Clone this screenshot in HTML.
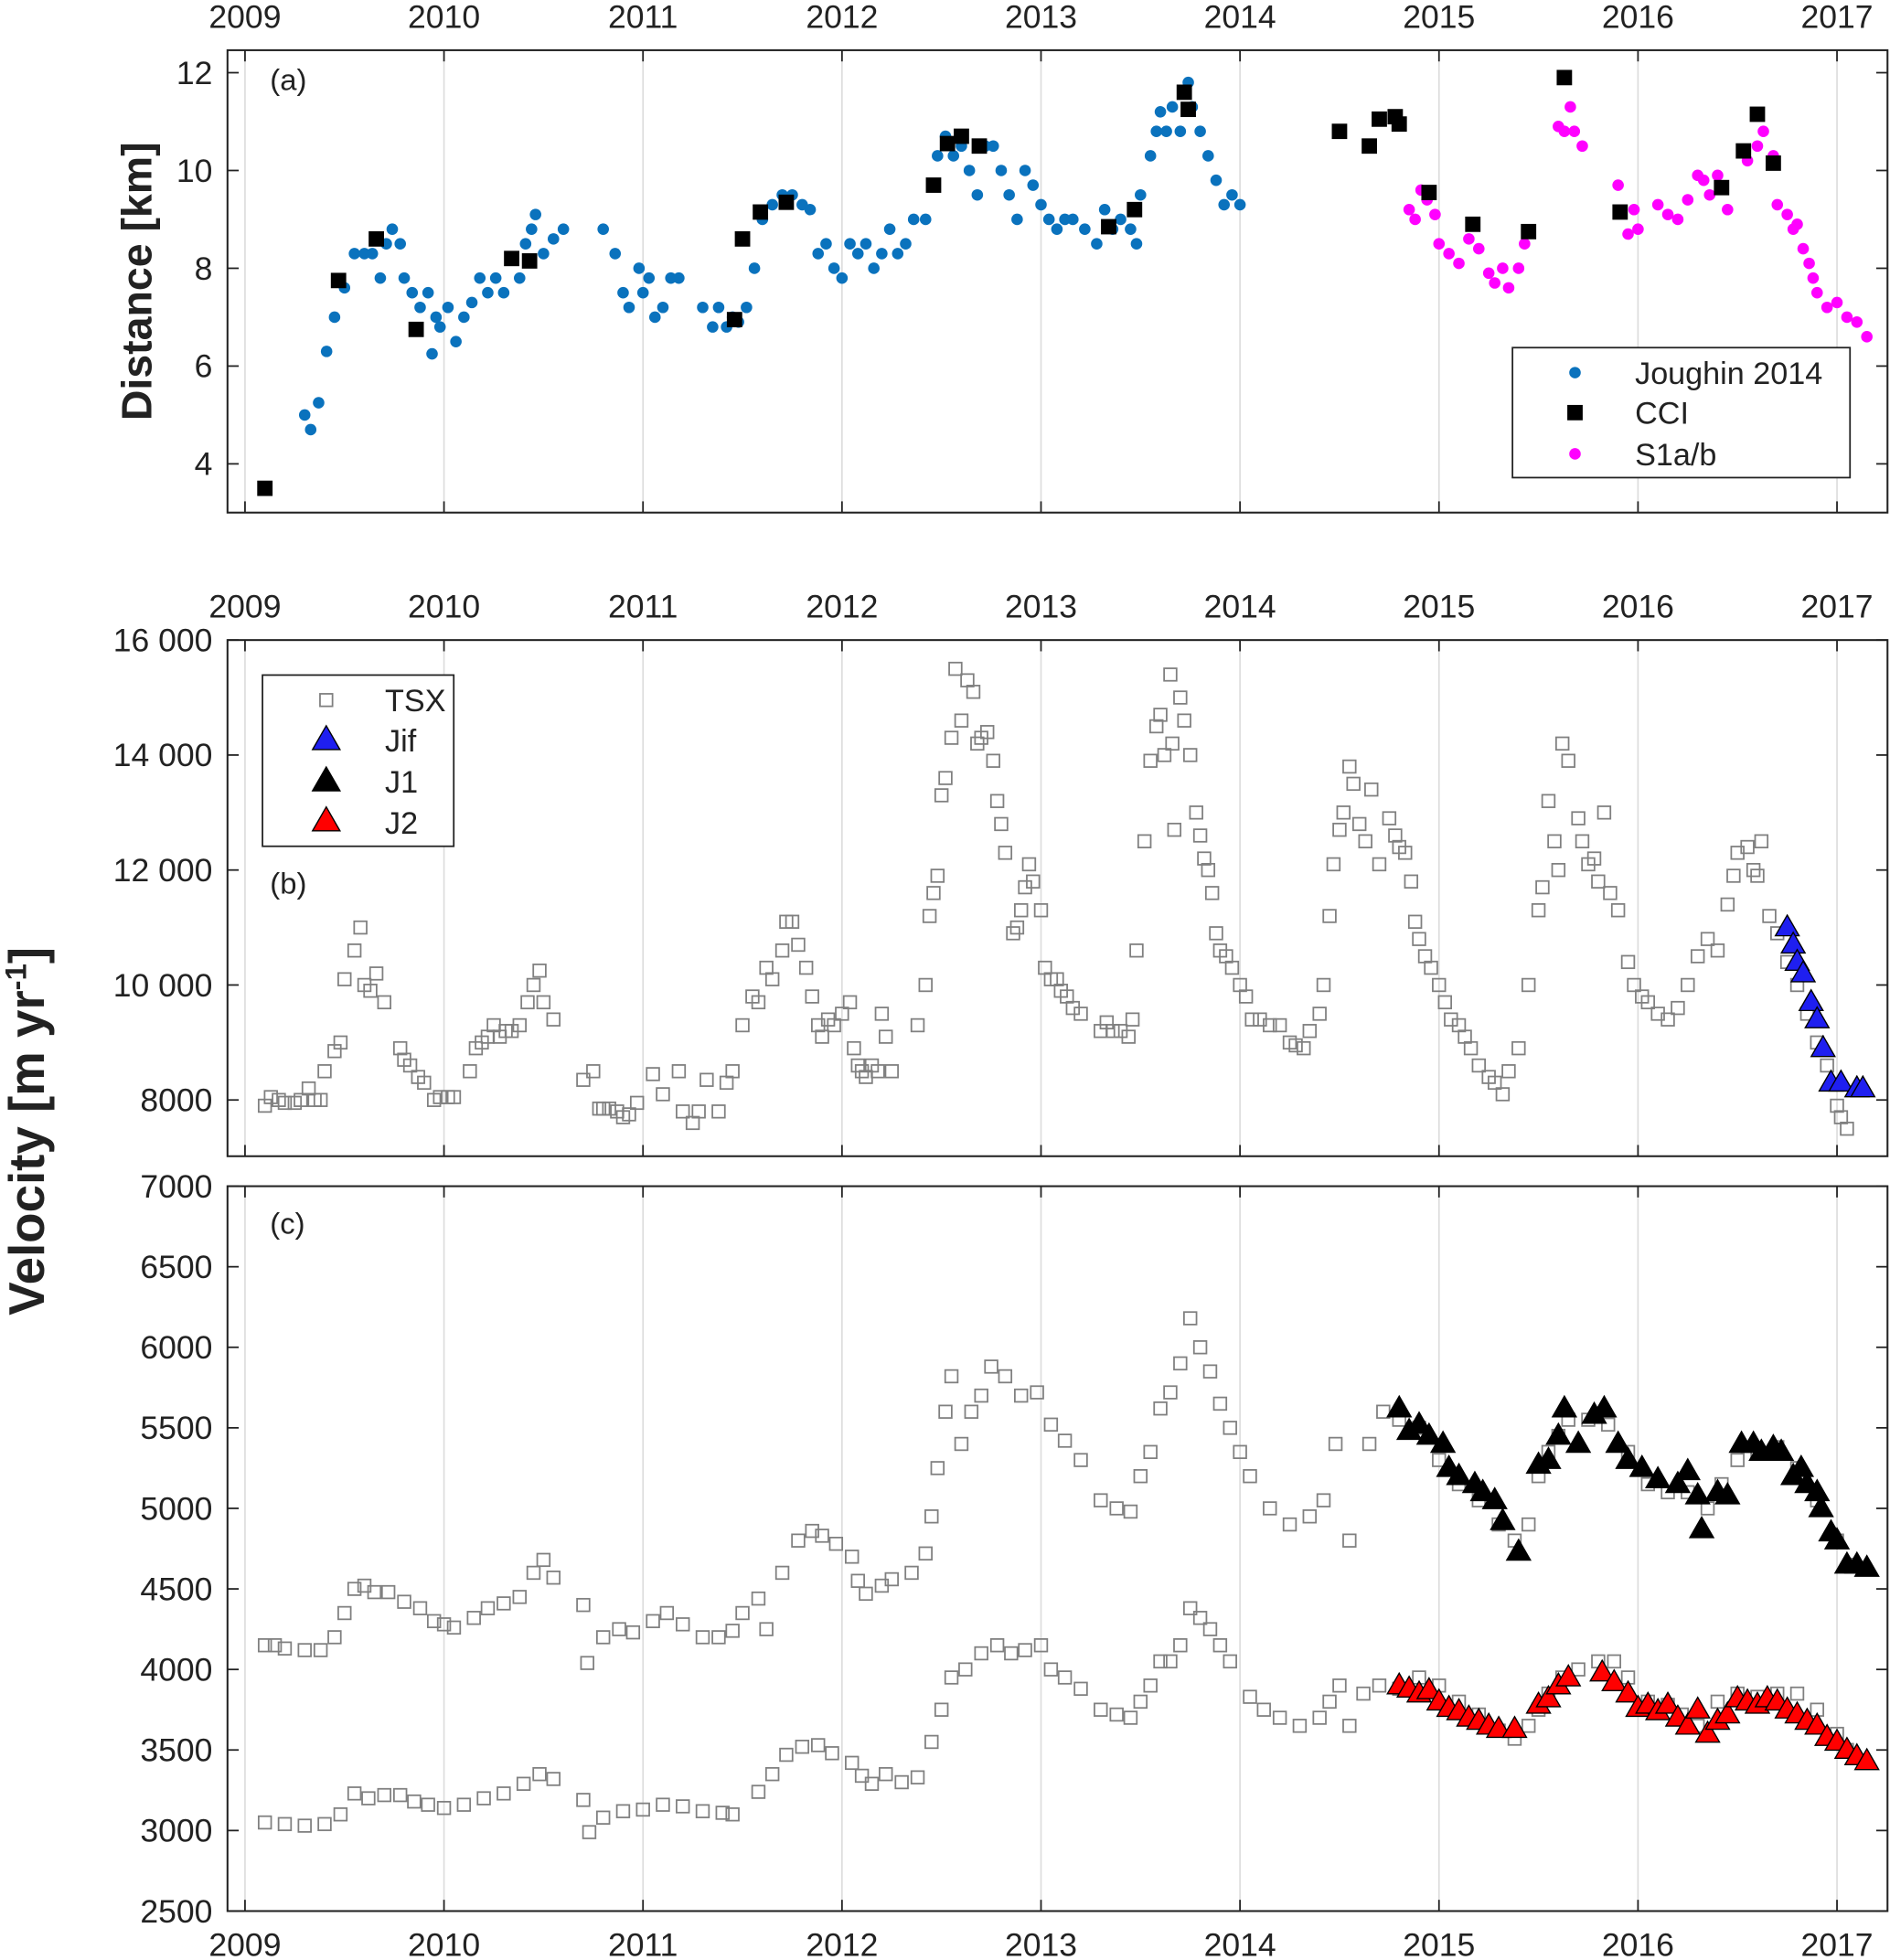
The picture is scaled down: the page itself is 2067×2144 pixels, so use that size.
<!DOCTYPE html>
<html><head><meta charset="utf-8"><style>
html,body{margin:0;padding:0;background:#fff;}
svg{display:block;font-family:"Liberation Sans","DejaVu Sans",sans-serif;}
</style></head><body>
<svg id="chart" xmlns="http://www.w3.org/2000/svg" width="2067" height="2144" viewBox="0 0 1512 1568"></svg>
<script>
const yearTicks=[2009,2010,2011,2012,2013,2014,2015,2016,2017];
const distTicks=[4,6,8,10,12];
const velBTicks=[8000,10000,12000,14000,16000];
const velBLabels=["8000","10 000","12 000","14 000","16 000"];
const velCTicks=[2500,3000,3500,4000,4500,5000,5500,6000,6500,7000];

const joughinT=[2009.3,2009.33,2009.37,2009.41,2009.45,2009.5,2009.55,2009.6,2009.64,2009.68,2009.71,2009.74,2009.78,2009.8,2009.84,2009.88,2009.92,2009.96,2009.98,2009.94,2010.02,2010.06,2010.1,2010.14,2010.18,2010.22,2010.26,2010.3,2010.38,2010.41,2010.44,2010.46,2010.5,2010.55,2010.6,2010.8,2010.86,2010.9,2010.93,2010.98,2011.0,2011.03,2011.06,2011.1,2011.14,2011.18,2011.3,2011.35,2011.38,2011.42,2011.45,2011.48,2011.52,2011.56,2011.6,2011.65,2011.7,2011.75,2011.8,2011.84,2011.88,2011.92,2011.96,2012.0,2012.04,2012.08,2012.12,2012.16,2012.2,2012.24,2012.28,2012.32,2012.36,2012.42,2012.48,2012.52,2012.56,2012.6,2012.64,2012.68,2012.72,2012.76,2012.8,2012.84,2012.88,2012.92,2012.96,2013.0,2013.04,2013.08,2013.12,2013.16,2013.22,2013.28,2013.32,2013.36,2013.4,2013.45,2013.48,2013.5,2013.55,2013.58,2013.6,2013.63,2013.66,2013.7,2013.74,2013.76,2013.8,2013.84,2013.88,2013.92,2013.96,2014.0];
const joughinV=[5.0,4.7,5.25,6.3,7.0,7.6,8.3,8.3,8.3,7.8,8.5,8.8,8.5,7.8,7.5,7.2,7.5,7.0,6.8,6.25,7.2,6.5,7.0,7.3,7.8,7.5,7.8,7.5,7.8,8.5,8.8,9.1,8.3,8.6,8.8,8.8,8.3,7.5,7.2,8.0,7.5,7.8,7.0,7.2,7.8,7.8,7.2,6.8,7.2,6.8,7.0,6.9,7.2,8.0,9.0,9.3,9.5,9.5,9.3,9.2,8.3,8.5,8.0,7.8,8.5,8.3,8.5,8.0,8.3,8.8,8.3,8.5,9.0,9.0,10.3,10.7,10.3,10.5,10.0,9.5,10.5,10.5,10.0,9.5,9.0,10.0,9.7,9.3,9.0,8.8,9.0,9.0,8.8,8.5,9.2,8.8,9.0,8.8,8.5,9.5,10.3,10.8,11.2,10.8,11.3,10.8,11.8,11.3,10.8,10.3,9.8,9.3,9.5,9.3];
const cciT=[2009.1,2009.47,2009.66,2009.86,2010.34,2010.43,2011.46,2011.5,2011.59,2011.72,2012.46,2012.53,2012.6,2012.69,2013.34,2013.47,2013.72,2013.74,2014.5,2014.65,2014.7,2014.78,2014.8,2014.95,2015.17,2015.45,2015.63,2015.91,2016.42,2016.53,2016.6,2016.68];
const cciV=[3.5,7.75,8.6,6.75,8.2,8.15,6.95,8.6,9.15,9.35,9.7,10.55,10.7,10.5,8.85,9.2,11.6,11.25,10.8,10.5,11.05,11.1,10.95,9.55,8.9,8.75,11.9,9.15,9.65,10.4,11.15,10.15];
const s1T=[2014.85,2014.88,2014.91,2014.94,2014.98,2015.0,2015.05,2015.1,2015.15,2015.2,2015.25,2015.28,2015.32,2015.35,2015.4,2015.43,2015.6,2015.63,2015.66,2015.68,2015.72,2015.9,2015.95,2015.98,2016.0,2016.1,2016.15,2016.2,2016.25,2016.3,2016.33,2016.36,2016.4,2016.45,2016.55,2016.6,2016.63,2016.68,2016.7,2016.75,2016.78,2016.8,2016.83,2016.86,2016.88,2016.9,2016.95,2017.0,2017.05,2017.1,2017.15];
const s1V=[9.2,9.0,9.6,9.4,9.1,8.5,8.3,8.1,8.6,8.4,7.9,7.7,8.0,7.6,8.0,8.5,10.9,10.8,11.3,10.8,10.5,9.7,8.7,9.2,8.8,9.3,9.1,9.0,9.4,9.9,9.8,9.5,9.9,9.2,10.2,10.5,10.8,10.3,9.3,9.1,8.8,8.9,8.4,8.1,7.8,7.5,7.2,7.3,7.0,6.9,6.6];

const tsxBT=[2009.1,2009.13,2009.17,2009.2,2009.25,2009.28,2009.32,2009.35,2009.38,2009.4,2009.45,2009.48,2009.5,2009.55,2009.58,2009.6,2009.63,2009.66,2009.7,2009.78,2009.8,2009.83,2009.87,2009.9,2009.95,2009.98,2010.02,2010.05,2010.13,2010.16,2010.19,2010.22,2010.25,2010.28,2010.31,2010.34,2010.38,2010.42,2010.45,2010.48,2010.5,2010.55,2010.7,2010.75,2010.78,2010.8,2010.83,2010.87,2010.9,2010.93,2010.97,2011.05,2011.1,2011.18,2011.2,2011.25,2011.28,2011.32,2011.38,2011.42,2011.45,2011.5,2011.55,2011.58,2011.62,2011.65,2011.7,2011.72,2011.75,2011.78,2011.82,2011.85,2011.88,2011.9,2011.93,2011.96,2012.0,2012.04,2012.06,2012.08,2012.1,2012.12,2012.15,2012.18,2012.2,2012.22,2012.25,2012.38,2012.42,2012.44,2012.46,2012.48,2012.5,2012.52,2012.55,2012.57,2012.6,2012.63,2012.66,2012.68,2012.7,2012.73,2012.76,2012.78,2012.8,2012.82,2012.86,2012.88,2012.9,2012.92,2012.94,2012.96,2013.0,2013.02,2013.05,2013.08,2013.1,2013.13,2013.16,2013.2,2013.3,2013.33,2013.36,2013.4,2013.44,2013.46,2013.48,2013.52,2013.55,2013.58,2013.6,2013.62,2013.65,2013.66,2013.67,2013.7,2013.72,2013.75,2013.78,2013.8,2013.82,2013.84,2013.86,2013.88,2013.9,2013.93,2013.96,2014.0,2014.03,2014.06,2014.1,2014.15,2014.2,2014.25,2014.28,2014.32,2014.35,2014.4,2014.42,2014.45,2014.47,2014.5,2014.52,2014.55,2014.57,2014.6,2014.63,2014.66,2014.7,2014.75,2014.78,2014.8,2014.83,2014.86,2014.88,2014.9,2014.93,2014.96,2015.0,2015.03,2015.06,2015.1,2015.13,2015.16,2015.2,2015.25,2015.28,2015.32,2015.35,2015.4,2015.45,2015.5,2015.52,2015.55,2015.58,2015.6,2015.62,2015.65,2015.7,2015.72,2015.75,2015.78,2015.8,2015.83,2015.86,2015.9,2015.95,2015.98,2016.02,2016.05,2016.1,2016.15,2016.2,2016.25,2016.3,2016.35,2016.4,2016.45,2016.48,2016.5,2016.55,2016.58,2016.6,2016.62,2016.66,2016.7,2016.75,2016.8,2016.85,2016.9,2016.95,2017.0,2017.02,2017.05];
const tsxBV=[7.9,8.05,8.0,7.95,7.95,8.0,8.2,8.0,8.0,8.5,8.85,9.0,10.1,10.6,11.0,10.0,9.9,10.2,9.7,8.9,8.7,8.6,8.4,8.3,8.0,8.05,8.05,8.05,8.5,8.9,9.0,9.1,9.3,9.1,9.2,9.2,9.3,9.7,10.0,10.25,9.7,9.4,8.35,8.5,7.85,7.85,7.85,7.8,7.7,7.75,7.95,8.45,8.1,8.5,7.8,7.6,7.8,8.35,7.8,8.3,8.5,9.3,9.8,9.7,10.3,10.1,10.6,11.1,11.1,10.7,10.3,9.8,9.3,9.1,9.4,9.3,9.5,9.7,8.9,8.6,8.5,8.4,8.6,8.5,9.5,9.1,8.5,9.3,10.0,11.2,11.6,11.9,13.3,13.6,14.3,15.5,14.6,15.3,15.1,14.2,14.3,14.4,13.9,13.2,12.8,12.3,10.9,11.0,11.3,11.7,12.1,11.8,11.3,10.3,10.1,10.1,9.9,9.8,9.6,9.5,9.2,9.35,9.2,9.2,9.1,9.4,10.6,12.5,13.9,14.5,14.7,14.0,15.4,14.2,12.7,15.0,14.6,14.0,13.0,12.6,12.2,12.0,11.6,10.9,10.6,10.5,10.3,10.0,9.8,9.4,9.4,9.3,9.3,9.0,8.95,8.9,9.2,9.5,10.0,11.2,12.1,12.7,13.0,13.8,13.5,12.8,12.5,13.4,12.1,12.9,12.6,12.4,12.3,11.8,11.1,10.8,10.5,10.3,10.0,9.7,9.4,9.3,9.1,8.9,8.6,8.4,8.3,8.1,8.5,8.9,10.0,11.3,11.7,13.2,12.5,12.0,14.2,13.9,12.9,12.5,12.1,12.2,11.8,13.0,11.6,11.3,10.4,10.0,9.8,9.7,9.5,9.4,9.6,10.0,10.5,10.8,10.6,11.4,11.9,12.3,12.4,12.0,11.9,12.5,11.2,10.9,10.4,10.0,9.5,9.0,8.6,7.9,7.7,7.5];
const jifT=[2016.75,2016.78,2016.8,2016.83,2016.87,2016.9,2016.93,2016.97,2017.02,2017.1,2017.13];
const jifV=[11.0,10.7,10.4,10.2,9.7,9.4,8.9,8.3,8.3,8.2,8.2];

const tsxC1T=[2009.1,2009.15,2009.2,2009.3,2009.38,2009.45,2009.5,2009.55,2009.6,2009.65,2009.72,2009.8,2009.88,2009.95,2010.0,2010.05,2010.15,2010.22,2010.3,2010.38,2010.45,2010.5,2010.55,2010.7,2010.72,2010.8,2010.88,2010.95,2011.05,2011.12,2011.2,2011.3,2011.38,2011.45,2011.5,2011.58,2011.62,2011.7,2011.78,2011.85,2011.9,2011.97,2012.05,2012.08,2012.12,2012.2,2012.25,2012.35,2012.42,2012.45,2012.48,2012.52,2012.55,2012.6,2012.65,2012.7,2012.75,2012.82,2012.9,2012.98,2013.05,2013.12,2013.2,2013.3,2013.38,2013.45,2013.5,2013.55,2013.6,2013.65,2013.7,2013.75,2013.8,2013.85,2013.9,2013.95,2014.0,2014.05,2014.15,2014.25,2014.35,2014.42,2014.48,2014.55,2014.65,2014.72,2014.8,2014.9,2015.0,2015.1,2015.2,2015.3,2015.38,2015.45,2015.5,2015.55,2015.6,2015.65,2015.75,2015.85,2015.95,2016.05,2016.15,2016.25,2016.35,2016.42,2016.5,2016.6,2016.7,2016.8,2016.9,2017.0,2017.08];
const tsxC1V=[4150,4150,4130,4120,4120,4200,4350,4500,4520,4480,4480,4420,4380,4300,4280,4260,4320,4380,4410,4450,4600,4680,4570,4400,4040,4200,4250,4230,4300,4350,4280,4200,4200,4240,4350,4440,4250,4600,4800,4860,4830,4780,4700,4550,4470,4520,4560,4600,4720,4950,5250,5600,5820,5400,5600,5700,5880,5820,5700,5720,5520,5420,5300,5050,5000,4980,5200,5350,5620,5720,5900,6180,6000,5850,5650,5500,5350,5200,5000,4900,4950,5050,5400,4800,5400,5600,5550,5500,5300,5150,5050,4900,4800,4900,5200,5350,5450,5550,5550,5520,5350,5150,5100,5100,5000,5150,5300,5350,5380,5250,5050,4800,4650];
const j1T=[2014.8,2014.85,2014.9,2014.95,2015.02,2015.05,2015.1,2015.18,2015.22,2015.28,2015.32,2015.4,2015.5,2015.55,2015.6,2015.63,2015.7,2015.78,2015.83,2015.9,2015.95,2016.02,2016.1,2016.2,2016.25,2016.3,2016.32,2016.4,2016.45,2016.52,2016.58,2016.62,2016.68,2016.72,2016.78,2016.82,2016.85,2016.9,2016.92,2016.97,2017.0,2017.05,2017.1,2017.15];
const j1V=[5620,5480,5520,5450,5400,5250,5200,5150,5100,5050,4920,4730,5270,5300,5450,5620,5400,5580,5620,5400,5300,5250,5180,5150,5230,5080,4870,5100,5080,5400,5400,5350,5380,5350,5200,5250,5150,5100,5000,4850,4800,4650,4650,4630];
const tsxC2T=[2009.1,2009.2,2009.3,2009.4,2009.48,2009.55,2009.62,2009.7,2009.78,2009.85,2009.92,2010.0,2010.1,2010.2,2010.3,2010.4,2010.48,2010.55,2010.7,2010.73,2010.8,2010.9,2011.0,2011.1,2011.2,2011.3,2011.4,2011.45,2011.58,2011.65,2011.72,2011.8,2011.88,2011.95,2012.05,2012.1,2012.15,2012.22,2012.3,2012.38,2012.45,2012.5,2012.55,2012.62,2012.7,2012.78,2012.85,2012.92,2013.0,2013.05,2013.12,2013.2,2013.3,2013.38,2013.45,2013.5,2013.55,2013.6,2013.65,2013.7,2013.75,2013.8,2013.85,2013.9,2013.95,2014.05,2014.12,2014.2,2014.3,2014.4,2014.45,2014.5,2014.55,2014.62,2014.7,2014.8,2014.9,2015.0,2015.1,2015.2,2015.3,2015.38,2015.45,2015.5,2015.55,2015.62,2015.7,2015.8,2015.88,2015.95,2016.05,2016.15,2016.22,2016.3,2016.4,2016.5,2016.6,2016.7,2016.8,2016.9,2017.0,2017.05];
const tsxC2V=[3050,3040,3030,3040,3100,3230,3200,3220,3220,3180,3160,3140,3160,3200,3230,3290,3350,3320,3190,2990,3080,3120,3130,3160,3150,3120,3110,3100,3240,3350,3470,3520,3530,3480,3420,3340,3290,3350,3300,3330,3550,3750,3950,4000,4100,4150,4100,4120,4150,4000,3950,3880,3750,3720,3700,3800,3900,4050,4050,4150,4380,4320,4250,4150,4050,3830,3750,3700,3650,3700,3800,3900,3650,3850,3900,3880,3950,3900,3800,3720,3620,3570,3650,3750,3850,3950,4000,4050,4050,3950,3800,3780,3720,3650,3800,3850,3830,3850,3850,3750,3600,3500];
const j2T=[2014.8,2014.85,2014.9,2014.95,2015.0,2015.05,2015.1,2015.15,2015.2,2015.25,2015.3,2015.38,2015.5,2015.55,2015.6,2015.65,2015.82,2015.88,2015.95,2016.0,2016.05,2016.1,2016.15,2016.2,2016.25,2016.3,2016.35,2016.4,2016.45,2016.5,2016.55,2016.6,2016.65,2016.7,2016.75,2016.8,2016.85,2016.9,2016.95,2017.0,2017.05,2017.1,2017.15];
const j2V=[3900,3880,3850,3870,3800,3760,3740,3700,3680,3650,3630,3630,3780,3820,3900,3950,3980,3920,3850,3760,3780,3740,3780,3700,3650,3750,3600,3680,3720,3820,3800,3780,3820,3800,3750,3720,3680,3650,3580,3550,3500,3460,3430];

const NS="http://www.w3.org/2000/svg";
const svg=document.getElementById('chart');
function el(tag,attrs,parent){const e=document.createElementNS(NS,tag);for(const k in attrs)e.setAttribute(k,attrs[k]);(parent||svg).appendChild(e);return e;}
const X0=182,X1=1510;
function xs(t){return 196+(t-2009)*159.2;}
function linY(v0,p0,v1,p1){return v=>p0+(v-v0)*(p1-p0)/(v1-v0);}
const yA=linY(4,371,12,58), yB=linY(8000,880,16000,512), yC=linY(2500,1529,7000,949);

function panel(name,top,bot,ys,ticks,labels,topYears,bottomYears){
  const g=el('g',{},svg);
  
  
  yearTicks.forEach(y=>{const x=xs(y);if(x>X0&&x<X1){const l=el('line',{x1:x,x2:x,y1:top,y2:bot,stroke:'#dcdcdc','stroke-width':1.2},g);}});
  const r=el('rect',{x:X0,y:top,width:X1-X0,height:bot-top,fill:'none',stroke:'#222','stroke-width':1.5},g);
  
  yearTicks.forEach(y=>{const x=xs(y);
    el('line',{x1:x,x2:x,y1:top,y2:top+9,stroke:'#222','stroke-width':1.3},g);
    el('line',{x1:x,x2:x,y1:bot,y2:bot-9,stroke:'#222','stroke-width':1.3},g);
    if(topYears){const t=el('text',{x:x,y:top-18,'text-anchor':'middle','font-size':26,fill:'#222'},g);t.textContent=y;}
    if(bottomYears){const t=el('text',{x:x,y:bot+36,'text-anchor':'middle','font-size':26,fill:'#222'},g);t.textContent=y;}
  });
  ticks.forEach((v,i)=>{const y=ys(v);
    el('line',{x1:X0,x2:X0+9,y1:y,y2:y,stroke:'#222','stroke-width':1.3},g);
    el('line',{x1:X1,x2:X1-9,y1:y,y2:y,stroke:'#222','stroke-width':1.3},g);
    const t=el('text',{x:X0-12,y:y+9,'text-anchor':'end','font-size':26,fill:'#222'},g);t.textContent=labels[i];
    
  });
  return g;
}
panel('panel-a',40,410,yA,distTicks,distTicks.map(String),true,false);
panel('panel-b',512,925,yB,velBTicks,velBLabels,true,false);
panel('panel-c',949,1529,yC,velCTicks,velCTicks.map(String),false,true);

function sq(g,cx,cy,s,fill,stroke){return el('rect',{x:cx-s/2,y:cy-s/2,width:s,height:s,fill:fill,stroke:stroke,'stroke-width':1.3},g);}
function tri(g,cx,cy,s,fill){const h=s*0.87;return el('polygon',{points:`${cx},${cy-h*0.6} ${cx-s/2},${cy+h*0.4} ${cx+s/2},${cy+h*0.4}`,fill:fill,stroke:'#000','stroke-width':1},g);}
function series(name){const g=el('g',{},svg);return g;}

let g=series('joughin-series');
joughinT.forEach((t,i)=>{const c=el('circle',{cx:xs(t),cy:yA(joughinV[i]),r:4.6,fill:'#0a72bd'},g);});
g=series('s1-series');
s1T.forEach((t,i)=>{const c=el('circle',{cx:xs(t),cy:yA(s1V[i]),r:4.6,fill:'#ff00ff'},g);});
g=series('cci-series');
cciT.forEach((t,i)=>{const r=sq(g,xs(t),yA(cciV[i]),11,'#000','#000');});

g=series('tsx-b-series');
tsxBT.forEach((t,i)=>{const r=sq(g,xs(t),yB(tsxBV[i]*1000),10,'none','#808080');});
g=series('jif-series');
jifT.forEach((t,i)=>{const p=tri(g,xs(t),yB(jifV[i]*1000),19,'#1f1ff0');});

g=series('tsx-c-upper-series');
tsxC1T.forEach((t,i)=>{const r=sq(g,xs(t),yC(tsxC1V[i]),10,'none','#808080');});
g=series('tsx-c-lower-series');
tsxC2T.forEach((t,i)=>{const r=sq(g,xs(t),yC(tsxC2V[i]),10,'none','#808080');});
g=series('j1-series');
j1T.forEach((t,i)=>{const p=tri(g,xs(t),yC(j1V[i]),19,'#000');});
g=series('j2-series');
j2T.forEach((t,i)=>{const p=tri(g,xs(t),yC(j2V[i]),19,'#f00');});

function txt(x,y,s,size,name,extra){const t=el('text',Object.assign({x:x,y:y,'font-size':size,fill:'#222'},extra||{}));t.textContent=s;return t;}
txt(216,72,'(a)',24,'panel-a-label');
txt(216,715,'(b)',24,'panel-b-label');
txt(216,987,'(c)',24,'panel-c-label');
txt(0,0,'Distance [km]',34,'y-axis-title-distance',{'font-weight':'bold',transform:'translate(121,225) rotate(-90)','text-anchor':'middle'});
const vt=txt(0,0,'Velocity [m yr',40,'y-axis-title-velocity',{'font-weight':'bold',transform:'translate(35,905) rotate(-90)','text-anchor':'middle'});
const sup=document.createElementNS(NS,'tspan');sup.setAttribute('font-size',24);sup.setAttribute('dy',-14);sup.textContent='-1';vt.appendChild(sup);
const cl=document.createElementNS(NS,'tspan');cl.setAttribute('dy',14);cl.textContent=']';vt.appendChild(cl);

let lg=series('legend-a');
el('rect',{x:1210,y:278,width:270,height:104,fill:'#fff',stroke:'#222','stroke-width':1.3},lg);
el('circle',{cx:1260,cy:298,r:4.6,fill:'#0a72bd'},lg);
sq(lg,1260,330,11,'#000','#000');
el('circle',{cx:1260,cy:363,r:4.6,fill:'#ff00ff'},lg);
[['Joughin 2014',307],['CCI',339],['S1a/b',372]].forEach(a=>{const t=el('text',{x:1308,y:a[1],'font-size':25,fill:'#222'},lg);t.textContent=a[0];});
lg=series('legend-b');
el('rect',{x:210,y:540,width:153,height:137,fill:'#fff',stroke:'#222','stroke-width':1.3},lg);
sq(lg,261,560,10,'none','#808080');
tri(lg,261,592,22,'#1f1ff0');tri(lg,261,625,22,'#000');tri(lg,261,657,22,'#f00');
[['TSX',569],['Jif',601],['J1',634],['J2',667]].forEach(a=>{const t=el('text',{x:308,y:a[1],'font-size':25,fill:'#222'},lg);t.textContent=a[0];});
</script>
</body></html>
